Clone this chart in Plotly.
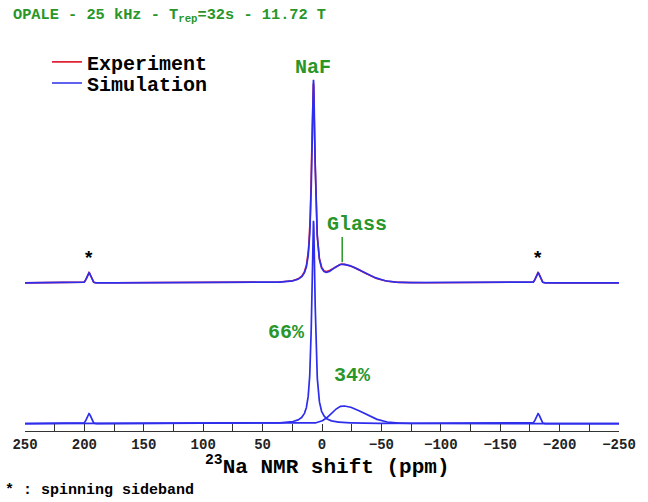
import numpy as np
import plotly.graph_objects as go

# --- spectrum description (23Na MAS, 25 kHz, 11.72 T) ---
component_names = ["NaF", "Glass"]
component_pct = [66, 34]            # integrated fractions of the centreband
naf_shift = 7.2                     # ppm
naf_fwhm = 3.5                      # ppm, Lorentzian
glass_shift = -17.5                 # ppm, position of the maximum
glass_sigma_left = 9.0              # ppm, low-field side
glass_sigma_right = 17.0            # ppm, high-field tail
sideband_offset = 189.0             # ppm (25 kHz / 132.3 MHz)
sideband_height = 5.0
sideband_sigma = 1.7
total_area = 840.0
trace_offset = 70.0                 # vertical offset of the full spectrum

major_ticks = list(range(250, -251, -50))

ppm = np.linspace(250, -250, 5001)


def lorentz(x, x0, fwhm, amp):
    g = fwhm / 2
    return amp / (1 + ((x - x0) / g) ** 2)


def split_gauss(x, x0, sl, sr, amp):
    s = np.where(x >= x0, sl, sr)
    return amp * np.exp(-((x - x0) ** 2) / (2 * s ** 2))


naf_amp = component_pct[0] / 100 * total_area / (np.pi / 2 * naf_fwhm)
glass_amp = component_pct[1] / 100 * total_area / (
    np.sqrt(2 * np.pi) / 2 * (glass_sigma_left + glass_sigma_right))

sidebands = (split_gauss(ppm, naf_shift + sideband_offset, sideband_sigma, sideband_sigma, sideband_height)
             + split_gauss(ppm, naf_shift - sideband_offset, sideband_sigma, sideband_sigma, sideband_height))
naf = lorentz(ppm, naf_shift, naf_fwhm, naf_amp) + sidebands
glass = split_gauss(ppm, glass_shift, glass_sigma_left, glass_sigma_right, glass_amp)
simulation = naf + glass

# measured spectrum: marginally broader NaF line than the model
experiment = (lorentz(ppm, naf_shift + 0.1, naf_fwhm * 1.04, naf_amp * 0.98) + sidebands * 1.05
              + split_gauss(ppm, glass_shift + 0.3, glass_sigma_left * 1.03, glass_sigma_right, glass_amp))

BLUE = "rgb(45,45,235)"
RED = "rgb(225,35,55)"
GREEN = "rgb(40,150,40)"
MONO = "Liberation Mono"

fig = go.Figure()
fig.add_trace(go.Scatter(x=ppm, y=experiment + trace_offset, mode="lines", name="Experiment",
                         legend="legend", line=dict(color=RED, width=1.6)))
fig.add_trace(go.Scatter(x=ppm, y=simulation + trace_offset, mode="lines", name="Simulation",
                         legend="legend2", line=dict(color=BLUE, width=1.7)))
fig.add_trace(go.Scatter(x=ppm, y=glass, mode="lines", showlegend=False,
                         line=dict(color=BLUE, width=1.7)))
fig.add_trace(go.Scatter(x=ppm, y=naf, mode="lines", showlegend=False,
                         line=dict(color=BLUE, width=1.7)))

label_font = dict(family=MONO, size=20, color=GREEN)
tip = float(simulation.max()) + trace_offset
annotations = [
    dict(x=naf_shift, y=tip, text="<b>NaF</b>", showarrow=False, yanchor="bottom",
         font=label_font, yshift=-1),
    dict(x=-29.7, y=98.8, text="<b>Glass</b>", showarrow=False, font=label_font),
    dict(x=29.7, y=45.1, text="<b>66%</b>", showarrow=False, font=label_font),
    dict(x=-25.6, y=23.7, text="<b>34%</b>", showarrow=False, font=label_font),
]
for sb in (naf_shift + sideband_offset, naf_shift - sideband_offset):
    annotations.append(dict(x=sb, y=trace_offset + sideband_height, text="<b>*</b>",
                            showarrow=False, yanchor="bottom", yshift=1,
                            font=dict(family=MONO, size=19, color="black")))
annotations += [
    dict(xref="paper", yref="paper", x=-0.024, y=1.063, xanchor="left", yanchor="middle",
         text="<b>OPALE - 25 kHz - T<sub>rep</sub>=32s - 11.72 T</b>", showarrow=False,
         font=dict(family=MONO, size=15.3, color=GREEN)),
    dict(xref="paper", yref="paper", x=0.508, y=-0.088, xanchor="center", yanchor="middle",
         text="<b><sup>23</sup>Na NMR shift (ppm)</b>", showarrow=False,
         font=dict(family=MONO, size=21, color="black")),
    dict(xref="paper", yref="paper", x=-0.037, y=-0.152, xanchor="left", yanchor="middle",
         text="<b>* : spinning sideband</b>", showarrow=False,
         font=dict(family=MONO, size=15, color="black")),
]

glass_top = float(np.interp(-17.0, ppm[::-1], simulation[::-1])) + trace_offset
fig.add_shape(type="line", x0=-17.0, x1=-17.0, y0=glass_top + 1.0, y1=glass_top + 13.5,
              line=dict(color=GREEN, width=1.5))

legend_common = dict(xanchor="left", yanchor="middle", bgcolor="rgba(0,0,0,0)",
                     font=dict(family=MONO, size=20, color="black", weight="bold"),
                     itemwidth=30)
fig.update_layout(
    width=648, height=502,
    margin=dict(l=25, r=17, t=40, b=71),
    plot_bgcolor="white", paper_bgcolor="white",
    annotations=annotations,
    legend=dict(x=0.037, y=0.944, **legend_common),
    legend2=dict(x=0.037, y=0.890, **legend_common),
    xaxis=dict(range=[250, -250], tickvals=major_ticks,
               ticks="inside", ticklen=7, tickcolor="#333", tickwidth=1.2,
               minor=dict(dtick=25, tick0=0, ticks="inside", ticklen=7,
                          tickcolor="#333", tickwidth=1.2, showgrid=False),
               showline=True, linecolor="#333", linewidth=1.2, showgrid=False, zeroline=False,
               tickfont=dict(family=MONO, size=14, color="#222", weight="bold")),
    yaxis=dict(range=[-3.7, 190.8], visible=False, showgrid=False, zeroline=False),
)

fig.write_html("out.html")
